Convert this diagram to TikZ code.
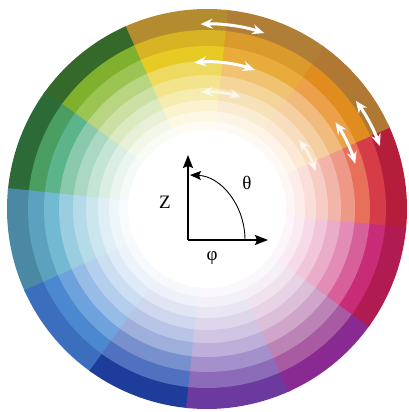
\documentclass[tikz,border=0pt]{standalone}
\usepackage{fontspec}
\setmainfont{Liberation Serif}
\usetikzlibrary{arrows.meta}

% colours of the wheel: dark (outer ring), mid, pure hue
\definecolor{crimsonD}{HTML}{B41E3A}\definecolor{crimsonM}{HTML}{D63C48}\definecolor{crimsonP}{HTML}{E8705A}
\definecolor{orangeD}{HTML}{B07832}\definecolor{orangeM}{HTML}{E08C1E}\definecolor{orangeP}{HTML}{ECA04A}
\definecolor{amberD}{HTML}{B07E36}\definecolor{amberM}{HTML}{DA9A2C}\definecolor{amberP}{HTML}{E9AC3A}
\definecolor{yellowD}{HTML}{B48C30}\definecolor{yellowM}{HTML}{D8B424}\definecolor{yellowP}{HTML}{E8CA24}
\definecolor{limeD}{HTML}{35692A}\definecolor{limeM}{HTML}{7FB02E}\definecolor{limeP}{HTML}{9CC452}
\definecolor{greenD}{HTML}{2C6A38}\definecolor{greenM}{HTML}{4A9E62}\definecolor{greenP}{HTML}{5CB48A}
\definecolor{tealD}{HTML}{4A88A4}\definecolor{tealM}{HTML}{5CA2BE}\definecolor{tealP}{HTML}{72BAD2}
\definecolor{azureD}{HTML}{3C6EBE}\definecolor{azureM}{HTML}{4C88D0}\definecolor{azureP}{HTML}{6EA2DC}
\definecolor{navyD}{HTML}{1E3C9A}\definecolor{navyM}{HTML}{5070C0}\definecolor{navyP}{HTML}{7890CE}
\definecolor{violetD}{HTML}{6C3A9E}\definecolor{violetM}{HTML}{8C6CB8}\definecolor{violetP}{HTML}{A490CA}
\definecolor{purpleD}{HTML}{882A92}\definecolor{purpleM}{HTML}{A85AA2}\definecolor{purpleP}{HTML}{BC84B6}
\definecolor{magentaD}{HTML}{B01C52}\definecolor{magentaM}{HTML}{C82C76}\definecolor{magentaP}{HTML}{D8609A}

\tikzset{
  wedge/.style={fill=#1},
  turn/.style={white, line width=3pt,
    {Stealth[length=12pt,width=10pt]}-{Stealth[length=12pt,width=10pt]}},
  axis/.style={line width=1.5pt, -{Stealth[length=13pt,width=10pt,inset=2pt]}},
  label/.style={font=\fontsize{19}{22}\selectfont, inner sep=1pt}
}

\begin{document}
\begin{tikzpicture}[x=1pt, y=1pt]
    \useasboundingbox (-207,-203) rectangle (201,209);
    % rings, outer one first; each piece a little wider, so no seams
    \foreach \ro/\ri/\tone in {200/179/D, 179/163/M, 163/148/P!100!white, 148/134/P!72!white,
                               134/121/P!52!white, 121/109/P!36!white, 109/98/P!23!white,
                               98/88/P!13!white, 88/79/P!6!white} {
        \foreach \a/\hue in {-6/crimson,24/orange,54/amber,84/yellow,114/lime,144/green,
                             174/teal,204/azure,234/navy,264/violet,294/purple,324/magenta} {
            \fill[wedge=\hue\tone] (\a:\ro) arc[start angle=\a, end angle=\a+30.8, radius=\ro]
                -- (\a+30.8:\ri-0.6) arc[start angle=\a+30.8, end angle=\a, radius=\ri-0.6] -- cycle;
        }
    }
    \fill[white] (0,0) circle (79);

    % white turning arrows
    \coordinate (topA) at (92:185);
    \coordinate (topB) at (95:147);
    \coordinate (topC) at (93:117);
    \coordinate (rgtA) at (36:184);
    \coordinate (rgtB) at (34:155);
    \coordinate (rgtC) at (37:115);
    \draw[turn] (topA) arc[start angle=92, end angle=72, radius=185];
    \draw[turn] (topB) arc[start angle=95, end angle=71, radius=147];
    \draw[turn, opacity=0.6] (topC) arc[start angle=93, end angle=73, radius=117];
    \draw[turn] (rgtA) arc[start angle=36, end angle=20, radius=184];
    \draw[turn] (rgtB) arc[start angle=34, end angle=17, radius=155];
    \draw[turn, opacity=0.6] (rgtC) arc[start angle=37, end angle=19, radius=115];

    % axes
    \coordinate (O) at (-19,-31);
    \coordinate (zTip) at (-19,54);
    \coordinate (phiTip) at (61,-31);
    \coordinate (thetaStart) at (38,-31);
    \draw[axis] (O) -- (zTip);
    \draw[axis] (O) -- (phiTip);
    \draw[line width=0.9pt, -{Stealth[length=11pt,width=9pt,inset=2pt]}]
        (thetaStart) arc[start angle=0, end angle=88, x radius=57, y radius=65];
    \node[label] (zLabel) at (-42,7) {Z};
    \node[label] (thetaLabel) at (40,26) {θ};
    \node[label] (phiLabel) at (5,-49) {φ};
\end{tikzpicture}
\end{document}
